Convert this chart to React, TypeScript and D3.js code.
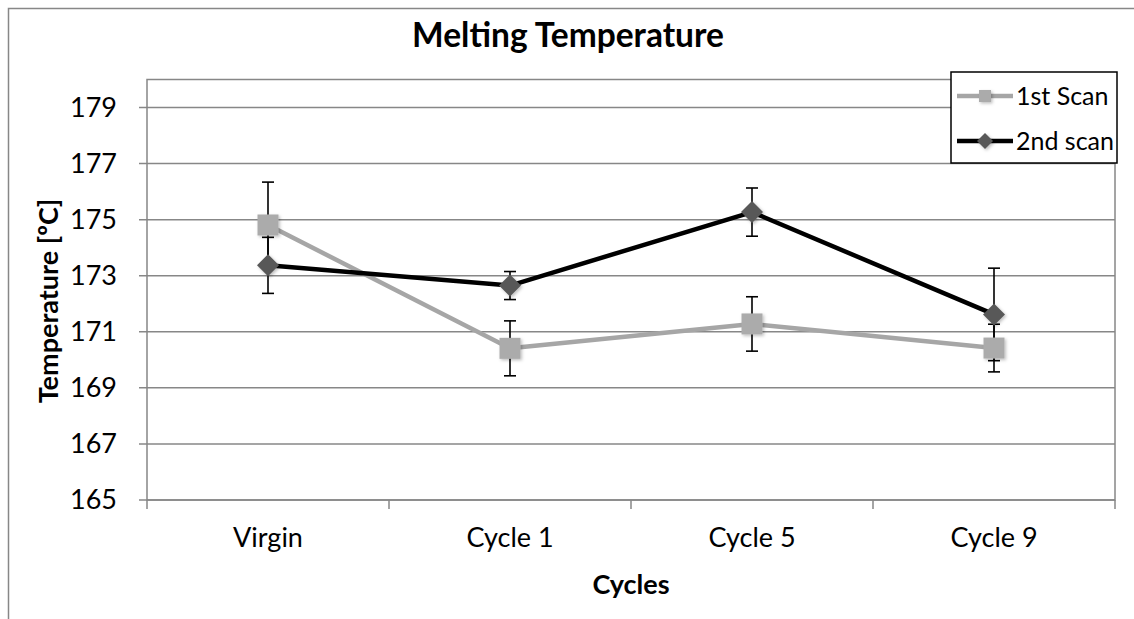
import { useMemo } from 'react';
import * as d3 from 'd3';

// Melting temperature per cycle
const CATEGORIES = ['Virgin', 'Cycle 1', 'Cycle 5', 'Cycle 9'];
const SCAN1 = [174.81, 170.41, 171.28, 170.42];
const SCAN1_ERR = [1.53, 0.98, 0.97, 0.85];
const SCAN2 = [173.37, 172.65, 175.27, 171.62];
const SCAN2_ERR = [1.0, 0.5, 0.86, 1.65];
const Y_TICKS = [165, 167, 169, 171, 173, 175, 177, 179];
const SERIES_NAMES = ['1st Scan', '2nd scan'];

const COLORS = {
  scan1Line: '#a6a6a6',
  scan1Marker: '#ababab',
  scan2Line: '#000000',
  scan2Marker: '#595959',
  grid: '#878787',
  text: '#000000',
};

const FONT = 'Lato, "Open Sans", sans-serif';
const W = 1134;
const H = 619;

export default function App() {
  const plot = { left: 147, right: 1115, top: 79.5, bottom: 500 };

  const x = useMemo(
    () => d3.scaleBand<string>().domain(CATEGORIES).range([plot.left, plot.right]).padding(0),
    []
  );
  const y = useMemo(() => d3.scaleLinear().domain([165, 180]).range([plot.bottom, plot.top]), []);

  const cx = (c: string) => (x(c) || 0) + x.bandwidth() / 2;
  const line = d3
    .line<number>()
    .x((_, i) => cx(CATEGORIES[i]))
    .y((d) => y(d));

  const bounds = [...CATEGORIES.map((c) => x(c) || 0), plot.right];

  const errorBars = (vals: number[], errs: number[], key: string) =>
    vals.map((v, i) => {
      const px = cx(CATEGORIES[i]);
      const y1 = y(v + errs[i]);
      const y2 = y(v - errs[i]);
      return (
        <g key={`${key}-${i}`} stroke="#000" strokeWidth={1.6}>
          <line x1={px} x2={px} y1={y1} y2={y2} />
          <line x1={px - 6} x2={px + 6} y1={y1} y2={y1} />
          <line x1={px - 6} x2={px + 6} y1={y2} y2={y2} />
        </g>
      );
    });

  const square = (px: number, py: number, s: number, k: string) => (
    <rect key={k} x={px - s / 2} y={py - s / 2} width={s} height={s} fill={COLORS.scan1Marker} filter="url(#shadow)" />
  );
  const diamond = (px: number, py: number, r: number, k: string) => (
    <path
      key={k}
      d={`M${px},${py - r}L${px + r},${py}L${px},${py + r}L${px - r},${py}Z`}
      fill={COLORS.scan2Marker}
      filter="url(#shadow)"
    />
  );

  const legend = { x: 951, y: 72, w: 166, h: 91 };

  return (
    <svg
      width={W}
      height={H}
      style={{ position: 'absolute', left: 0, top: 0, display: 'block', background: '#fff' }}
      fontFamily={FONT}
    >
      <defs>
        <filter id="shadow" x="-50%" y="-50%" width="200%" height="200%">
          <feDropShadow dx="1.5" dy="1.5" stdDeviation="1.5" floodColor="#000" floodOpacity="0.25" />
        </filter>
      </defs>

      {/* chart area border (runs off the right and bottom) */}
      <rect x={8.5} y={8.5} width={W + 20} height={H + 20} fill="#fff" stroke={COLORS.grid} strokeWidth={1.5} />

      {/* title */}
      <text x={568} y={47} textAnchor="middle" fontSize={33.5} fontWeight={700} fill={COLORS.text}>
        Melting Temperature
      </text>

      {/* gridlines */}
      {Y_TICKS.map((t) => (
        <line key={`g${t}`} x1={plot.left - 8} x2={plot.right} y1={y(t)} y2={y(t)} stroke={COLORS.grid} strokeWidth={1.5} />
      ))}
      {/* plot area border */}
      <rect
        x={plot.left}
        y={plot.top}
        width={plot.right - plot.left}
        height={plot.bottom - plot.top}
        fill="none"
        stroke={COLORS.grid}
        strokeWidth={1.5}
      />
      {/* x ticks */}
      {bounds.map((b, i) => (
        <line key={`xt${i}`} x1={b} x2={b} y1={plot.bottom} y2={plot.bottom + 9} stroke={COLORS.grid} strokeWidth={1.5} />
      ))}

      {/* y tick labels */}
      {Y_TICKS.map((t) => (
        <text key={`yl${t}`} x={117} y={y(t)} dy="0.35em" textAnchor="end" fontSize={27} fill={COLORS.text}>
          {t}
        </text>
      ))}
      {/* x tick labels */}
      {CATEGORIES.map((c) => (
        <text key={`xl${c}`} x={cx(c)} y={547} textAnchor="middle" fontSize={27} fill={COLORS.text}>
          {c}
        </text>
      ))}

      {/* axis titles */}
      <text x={631} y={594} textAnchor="middle" fontSize={27} fontWeight={700} fill={COLORS.text}>
        Cycles
      </text>
      <text
        transform="translate(58,301) rotate(-90)"
        textAnchor="middle"
        fontSize={27}
        fontWeight={700}
        fill={COLORS.text}
      >
        Temperature [ºC]
      </text>

      {/* series lines */}
      <path d={line(SCAN1) || ''} fill="none" stroke={COLORS.scan1Line} strokeWidth={4.5} strokeLinejoin="round" />
      <path d={line(SCAN2) || ''} fill="none" stroke={COLORS.scan2Line} strokeWidth={4.5} strokeLinejoin="round" />

      {/* error bars */}
      {errorBars(SCAN1, SCAN1_ERR, 'e1')}
      {errorBars(SCAN2, SCAN2_ERR, 'e2')}

      {/* markers */}
      {SCAN1.map((v, i) => square(cx(CATEGORIES[i]), y(v), 21, `m1${i}`))}
      {SCAN2.map((v, i) => diamond(cx(CATEGORIES[i]), y(v), 11, `m2${i}`))}

      {/* legend */}
      <rect x={legend.x} y={legend.y} width={legend.w} height={legend.h} fill="#fff" stroke="#000" strokeWidth={1.5} />
      {SERIES_NAMES.map((name, i) => {
        const ly = legend.y + 24 + i * 45;
        return (
          <g key={name}>
            <line
              x1={legend.x + 6}
              x2={legend.x + 62}
              y1={ly}
              y2={ly}
              stroke={i === 0 ? COLORS.scan1Line : COLORS.scan2Line}
              strokeWidth={4.5}
            />
            {i === 0 ? square(legend.x + 34, ly, 12, 'ls') : diamond(legend.x + 34, ly, 8, 'ld')}
            <text x={legend.x + 65} y={ly} dy="0.35em" fontSize={25} fill={COLORS.text}>
              {name}
            </text>
          </g>
        );
      })}
    </svg>
  );
}
